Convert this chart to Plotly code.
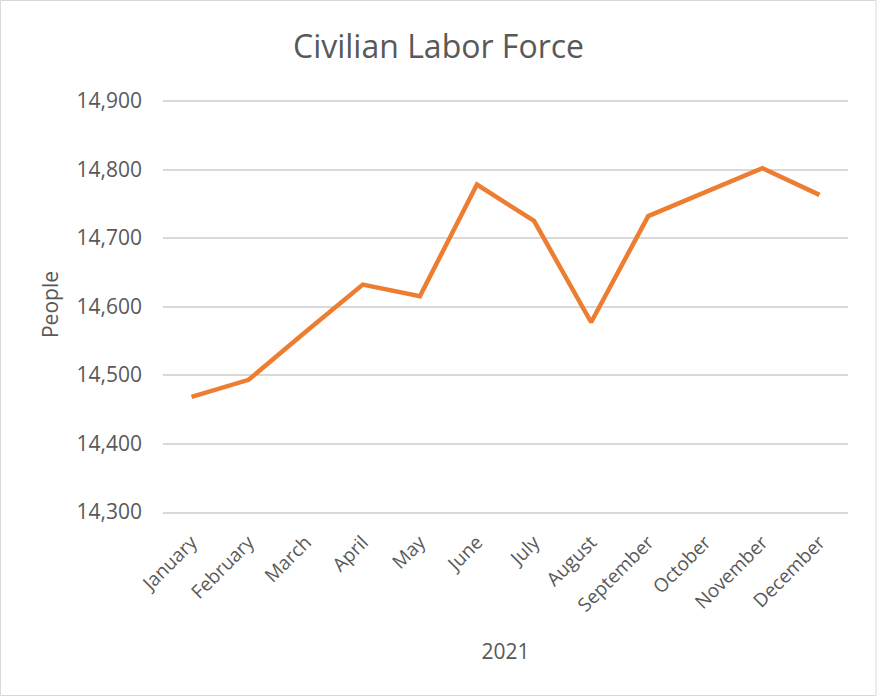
import plotly.graph_objects as go

months = ["January", "February", "March", "April", "May", "June", "July",
          "August", "September", "October", "November", "December"]
labor_force = [14468, 14493, 14563, 14632, 14615, 14778, 14725,
               14577, 14732, 14767, 14802, 14763]
y_ticks = [14300, 14400, 14500, 14600, 14700, 14800, 14900]

TXT = "#595959"
FONT = "Open Sans"

fig = go.Figure()
fig.add_trace(go.Scatter(
    x=months, y=labor_force, mode="lines",
    line=dict(color="#ED7D31", width=4.5),
    hoverinfo="x+y",
))

W, H = 877, 696
ml, mr, mt, mb = 163, 29, 97, 184
pw, ph = W - ml - mr, H - mt - mb
px_per_unit = 411 / 600.0
y_top = 14300 + ph / px_per_unit

fig.update_layout(
    width=W, height=H,
    margin=dict(l=ml, r=mr, t=mt, b=mb),
    paper_bgcolor="white", plot_bgcolor="white",
    showlegend=False,
    font=dict(family=FONT, color=TXT),
    title=dict(text="Civilian Labor Force", x=0.5, xref="container",
               y=1 - 47 / H, yref="container", yanchor="middle", xanchor="center",
               font=dict(size=32, color=TXT, family=FONT)),
    xaxis=dict(
        range=[-0.5, len(months) - 0.5],
        tickangle=-45, tickfont=dict(size=19, color=TXT),
        ticklabelstandoff=10,
        showgrid=False, showline=True, linecolor="#d9d9d9", linewidth=1.5,
        ticks="", title=dict(text="2021", font=dict(size=21, color=TXT), standoff=28),
        fixedrange=True,
    ),
    yaxis=dict(
        range=[14300, y_top], tickvals=y_ticks,
        ticktext=[f"{v:,}" for v in y_ticks],
        tickfont=dict(size=21, color=TXT),
        showgrid=True, gridcolor="#d9d9d9", gridwidth=1.5,
        zeroline=False, showline=False, ticks="",
        ticklabelstandoff=20,
        title=dict(text="People", font=dict(size=21, color=TXT), standoff=12),
        fixedrange=True,
    ),
    shapes=[dict(type="rect", xref="paper", yref="paper",
                 x0=-ml / pw + 0.5 / pw, x1=1 + (mr - 1) / pw,
                 y0=-mb / ph + 0.5 / ph, y1=1 + (mt - 0.5) / ph,
                 line=dict(color="#d9d9d9", width=1))],
)

fig.write_html("out.html", config={"displayModeBar": False},
               post_script="document.body.style.margin='0';document.body.style.overflow='hidden';")
